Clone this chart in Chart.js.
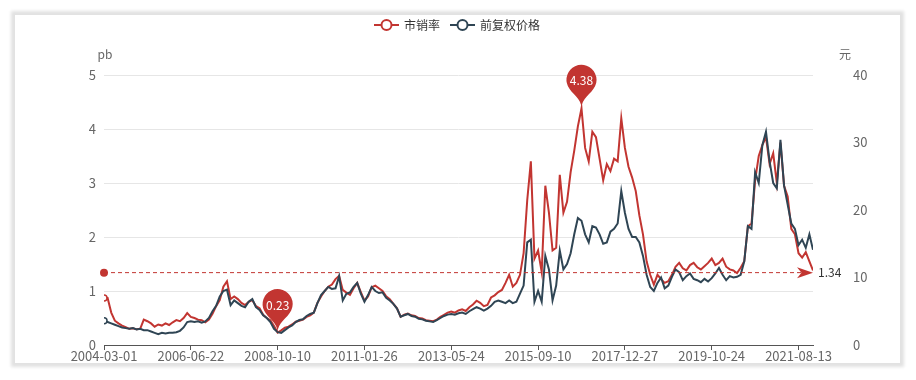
<!DOCTYPE html>
<html><head><meta charset="utf-8">
<script src="https://cdn.jsdelivr.net/npm/chart.js@4"></script>
<style>
html,body{margin:0;padding:0;background:#fff;}
#card{position:absolute;left:15px;top:15px;width:885px;height:348px;background:#fff;box-shadow:0 0 3px 4px #e2e2e2;}
#wrap{position:absolute;left:0;top:0;width:916px;height:380px;}
</style></head><body>
<div id="card"></div>
<div id="wrap"><canvas id="c" width="916" height="380"></canvas></div>
<script>
const seriesNames = ['市销率', '前复权价格'];
const tickLabels = ['2004-03-01','2006-06-22','2008-10-10','2011-01-26','2013-05-24','2015-09-10','2017-12-27','2019-10-24','2021-08-13'];
const tickStep = 24;
const markLineValue = 1.34;
const pbValues = [
 0.87,0.87,0.60,0.45,0.40,0.36,0.33,0.30,0.31,0.29,
 0.30,0.47,0.44,0.40,0.34,0.38,0.36,0.40,0.37,0.42,
 0.46,0.44,0.50,0.59,0.52,0.50,0.47,0.46,0.42,0.47,
 0.58,0.72,0.83,1.08,1.18,0.85,0.90,0.85,0.78,0.74,
 0.80,0.83,0.72,0.68,0.56,0.50,0.46,0.35,0.23,0.27,
 0.32,0.34,0.38,0.43,0.45,0.47,0.52,0.55,0.60,0.78,
 0.90,1.00,1.08,1.12,1.22,1.28,1.02,0.97,0.93,1.05,
 1.15,0.98,0.82,0.90,1.07,1.10,1.05,1.00,0.90,0.85,
 0.76,0.68,0.52,0.56,0.58,0.55,0.54,0.50,0.49,0.46,
 0.45,0.44,0.47,0.52,0.56,0.60,0.62,0.60,0.64,0.66,
 0.63,0.70,0.75,0.82,0.78,0.72,0.74,0.88,0.92,0.98,
 1.02,1.15,1.30,1.08,1.15,1.30,1.70,2.68,3.40,1.60,
 1.75,1.35,2.95,2.45,1.75,1.80,3.15,2.45,2.65,3.20,
 3.60,4.05,4.38,3.65,3.40,3.95,3.85,3.45,3.05,3.35,
 3.22,3.45,3.40,4.20,3.65,3.30,3.10,2.85,2.40,2.05,
 1.55,1.30,1.12,1.30,1.22,1.15,1.18,1.30,1.45,1.52,
 1.42,1.38,1.48,1.52,1.44,1.40,1.46,1.52,1.60,1.48,
 1.52,1.60,1.45,1.40,1.38,1.33,1.43,1.55,2.20,2.25,
 3.05,3.50,3.70,3.85,3.35,3.55,3.00,3.75,2.95,2.75,
 2.15,2.05,1.70,1.62,1.72,1.55,1.38
];
const priceValues = [
 3.6,3.4,3.2,3.0,2.8,2.6,2.5,2.4,2.5,2.3,
 2.4,2.2,2.2,2.0,1.8,1.6,1.8,1.7,1.8,1.8,
 1.9,2.1,2.6,3.4,3.5,3.4,3.5,3.3,3.5,4.0,
 5.0,5.8,7.2,8.0,8.2,5.9,6.6,6.2,5.8,5.6,
 6.4,6.8,5.6,5.2,4.4,4.0,3.4,2.4,1.9,1.8,
 2.2,2.6,2.9,3.4,3.7,3.8,4.3,4.6,4.8,6.2,
 7.4,8.0,8.6,8.3,8.4,10.2,6.6,7.6,7.8,8.6,
 9.2,7.6,6.4,7.4,8.6,8.0,7.7,7.8,7.0,6.6,
 6.1,5.4,4.2,4.4,4.6,4.3,4.2,3.9,3.8,3.6,
 3.5,3.4,3.7,4.0,4.3,4.5,4.6,4.5,4.7,4.8,
 4.6,5.0,5.3,5.6,5.4,5.1,5.4,5.8,6.4,6.6,
 6.4,6.2,6.6,6.2,6.4,7.6,8.8,15.2,15.6,6.4,
 8.0,6.4,13.2,11.2,6.6,8.8,14.0,11.2,12.0,13.6,
 16.4,18.8,18.4,16.4,15.2,17.6,17.4,16.4,15.0,15.2,
 16.8,17.2,18.0,22.8,19.6,17.2,16.0,16.0,15.2,13.2,
 10.4,8.6,8.0,9.2,10.0,8.4,8.8,10.1,11.2,10.8,
 9.6,10.2,10.6,9.8,9.6,9.3,9.8,9.4,9.9,10.6,
 11.4,10.4,9.6,10.2,10.0,10.1,10.4,12.4,17.6,17.2,
 25.6,24.0,29.6,31.6,27.2,24.0,23.2,30.4,23.6,20.8,
 18.0,17.2,14.8,15.6,14.4,16.4,14.1
];
const xIndex = pbValues.map((_, i) => i);

const RED = '#c23531', DARK = '#2f4554';
const FONT = '"Noto Sans CJK SC", "Noto Sans", sans-serif';

function drawPin(ctx, x, y, size) {
  const w = size / 5 * 3, h = Math.max(w, size), r = w / 2;
  const dy = r * r / (h - r), cy = y - h + r + dy;
  const a = Math.asin(dy / r), dx = Math.cos(a) * r, tx = Math.sin(a), ty = Math.cos(a);
  const cp = r * 0.6, cp2 = r * 0.7;
  ctx.beginPath();
  ctx.moveTo(x - dx, cy + dy);
  ctx.arc(x, cy, r, Math.PI - a, Math.PI * 2 + a);
  ctx.bezierCurveTo(x + dx - tx * cp, cy + dy + ty * cp, x, y - cp2, x, y);
  ctx.bezierCurveTo(x, y - cp2, x - dx + tx * cp, cy + dy + ty * cp, x - dx, cy + dy);
  ctx.closePath();
  ctx.fill();
  return cy;
}

const overlay = {
  id: 'overlay',
  afterDatasetsDraw(chart) {
    const ctx = chart.ctx, xs = chart.scales.x, ys = chart.scales.y;
    ctx.save();
    const y = ys.getPixelForValue(markLineValue);
    const x0 = xs.getPixelForValue(0), x1 = xs.getPixelForValue(pbValues.length - 1);
    ctx.strokeStyle = RED; ctx.lineWidth = 1; ctx.setLineDash([4, 3]);
    ctx.beginPath(); ctx.moveTo(x0, y); ctx.lineTo(x1 - 8, y); ctx.stroke();
    ctx.setLineDash([]);
    ctx.fillStyle = RED;
    ctx.beginPath(); ctx.arc(x0, y, 4, 0, Math.PI * 2); ctx.fill();
    const L = 16, W = 11;
    ctx.beginPath(); ctx.moveTo(x1, y); ctx.lineTo(x1 - L, y - W / 2); ctx.lineTo(x1 - L * 0.72, y); ctx.lineTo(x1 - L, y + W / 2); ctx.closePath(); ctx.fill();
    ctx.fillStyle = '#333'; ctx.font = '12px ' + FONT; ctx.textBaseline = 'middle'; ctx.textAlign = 'left';
    ctx.fillText(markLineValue.toFixed(2), x1 + 5, y);
    let iMax = 0, iMin = 0;
    pbValues.forEach((v, i) => { if (v > pbValues[iMax]) iMax = i; if (v < pbValues[iMin]) iMin = i; });
    [iMax, iMin].forEach(i => {
      const px = xs.getPixelForValue(i), py = ys.getPixelForValue(pbValues[i]);
      ctx.fillStyle = RED;
      const cy = drawPin(ctx, px, py, 50);
      ctx.fillStyle = '#fff'; ctx.font = '12px ' + FONT; ctx.textAlign = 'center'; ctx.textBaseline = 'middle';
      ctx.fillText(pbValues[i].toFixed(2), px, cy + 1);
    });
    ctx.restore();
  },
  afterDraw(chart) {
    const ctx = chart.ctx;
    ctx.save();
    const items = [{name: seriesNames[0], c: RED, x: 374}, {name: seriesNames[1], c: DARK, x: 450}];
    const ly = 25;
    items.forEach(it => {
      ctx.strokeStyle = it.c; ctx.lineWidth = 2;
      ctx.beginPath(); ctx.moveTo(it.x, ly); ctx.lineTo(it.x + 25, ly); ctx.stroke();
      ctx.fillStyle = '#fff';
      ctx.beginPath(); ctx.arc(it.x + 12.5, ly, 5, 0, Math.PI * 2); ctx.fill(); ctx.stroke();
      ctx.fillStyle = '#333'; ctx.font = '12px ' + FONT; ctx.textAlign = 'left'; ctx.textBaseline = 'middle';
      ctx.fillText(it.name, it.x + 30, ly);
    });
    ctx.fillStyle = '#666'; ctx.font = '12px ' + FONT; ctx.textAlign = 'center'; ctx.textBaseline = 'middle';
    ctx.fillText('pb', 105, 54);
    ctx.fillText('元', 845, 54);
    ctx.restore();
  }
};

function fixV(w) {
  return s => { s.width = w; s.paddingTop = 0; s.paddingBottom = 0; };
}

new Chart(document.getElementById('c'), {
  type: 'line',
  data: {
    labels: xIndex,
    datasets: [
      { label: seriesNames[0], data: pbValues, yAxisID: 'y', borderColor: RED, borderWidth: 2, tension: 0, order: 1,
        pointRadius: c => c.dataIndex === 0 ? 3 : 0, pointBackgroundColor: '#fff', pointBorderColor: RED, pointBorderWidth: 1.5 },
      { label: seriesNames[1], data: priceValues, yAxisID: 'y1', borderColor: DARK, borderWidth: 2, tension: 0, order: 0,
        pointRadius: c => c.dataIndex === 0 ? 3 : 0, pointBackgroundColor: '#fff', pointBorderColor: DARK, pointBorderWidth: 1.5 }
    ]
  },
  options: {
    responsive: false, animation: false,
    layout: { padding: { top: 75, left: 0, right: 0, bottom: 0 } },
    plugins: { legend: { display: false }, tooltip: { enabled: false } },
    scales: {
      x: {
        type: 'linear', min: 0, max: pbValues.length - 1,
        afterBuildTicks: s => { s.ticks = tickLabels.map((_, k) => ({ value: k * tickStep })); },
        afterFit: s => { s.height = 35; s.paddingLeft = 0; s.paddingRight = 0; },
        ticks: { autoSkip: false, maxRotation: 0, padding: -2, color: '#666', font: { size: 13, family: FONT },
          callback: v => tickLabels[Math.round(v / tickStep)] },
        grid: { drawOnChartArea: false, drawTicks: true, tickLength: 5, color: '#555' },
        border: { display: true, color: '#555' }
      },
      y: {
        position: 'left', min: 0, max: 5,
        afterFit: fixV(104),
        ticks: { stepSize: 1, padding: 8, color: '#666', font: { size: 13, family: FONT } },
        grid: { color: '#e6e6e6', drawTicks: false },
        border: { display: false }
      },
      y1: {
        position: 'right', min: 0, max: 40,
        afterFit: fixV(103),
        ticks: { stepSize: 10, padding: 40, color: '#666', font: { size: 13, family: FONT } },
        grid: { drawOnChartArea: false, drawTicks: false },
        border: { display: false }
      }
    }
  },
  plugins: [overlay]
});
</script>
</body></html>
